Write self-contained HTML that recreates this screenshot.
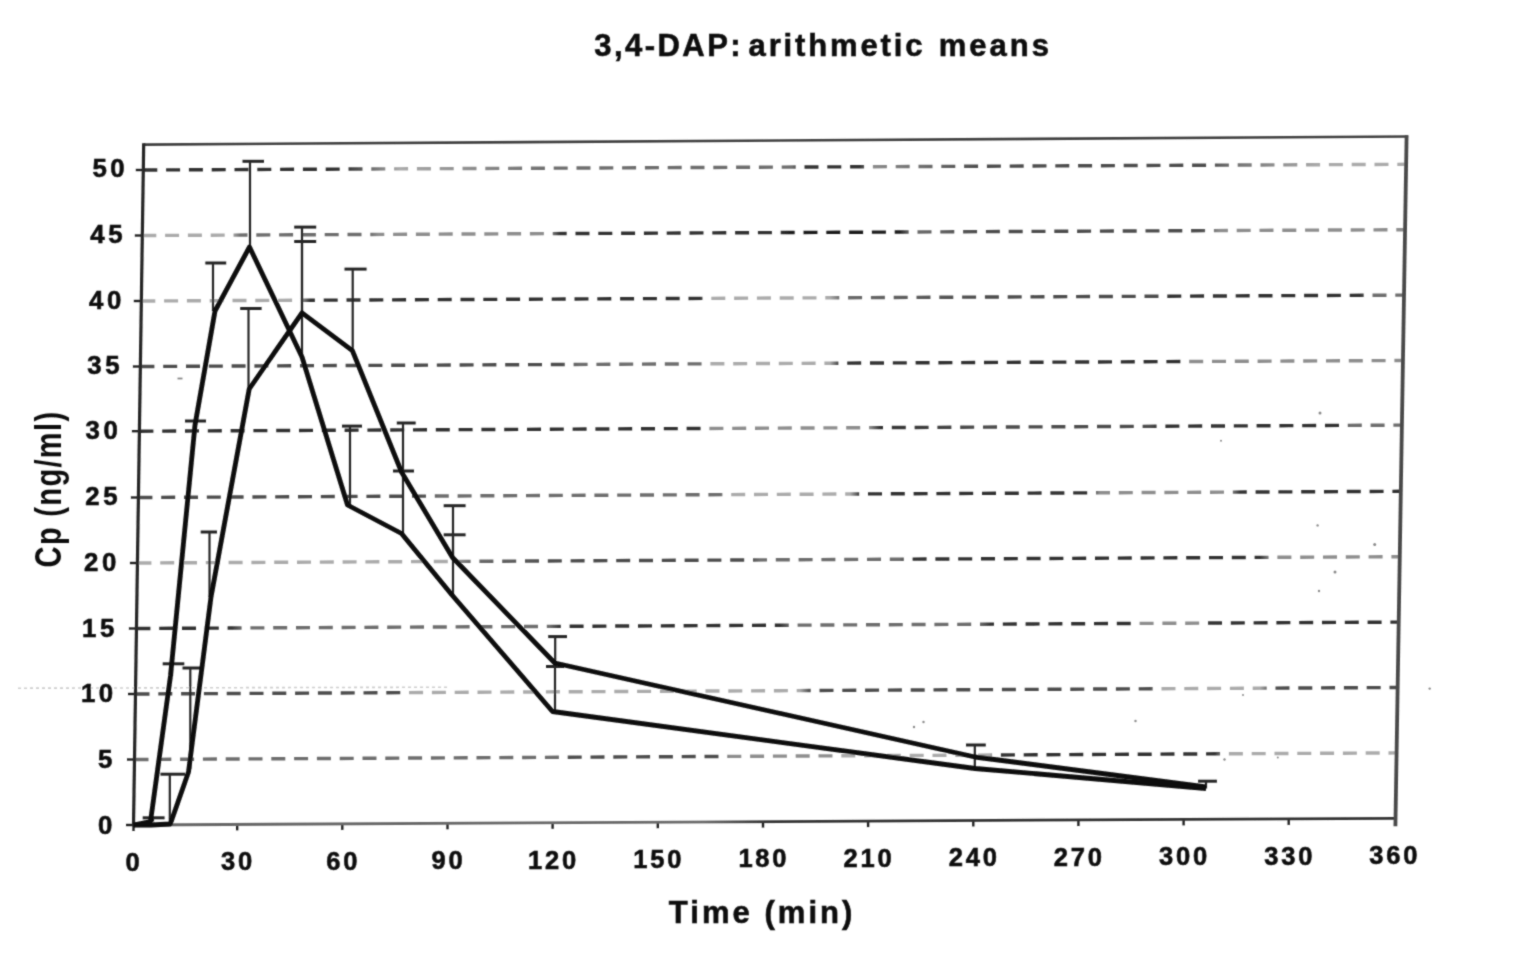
<!DOCTYPE html><html><head><meta charset="utf-8"><title>3,4-DAP: arithmetic means</title>
<style>html,body{margin:0;padding:0;background:#fff;}svg{display:block;}text{font-family:"Liberation Sans",Arial,sans-serif;font-weight:bold;fill:#111;stroke:#111;stroke-width:0.6px;}</style></head><body>
<svg width="1530" height="953" viewBox="0 0 1530 953">
<rect width="1530" height="953" fill="#fff"/>
<defs><filter id="scan" x="0" y="0" width="100%" height="100%" filterUnits="userSpaceOnUse"><feConvolveMatrix order="3" kernelMatrix="0.04 0.09 0.04 0.09 0.48 0.09 0.04 0.09 0.04" edgeMode="duplicate" preserveAlpha="false"/></filter></defs>
<g filter="url(#scan)">
<line x1="18" y1="688.2" x2="450" y2="687.2" stroke="#cfcfcf" stroke-width="1.6" stroke-dasharray="3 3"/>
<defs>
<linearGradient id="g50" gradientUnits="userSpaceOnUse" x1="133" y1="0" x2="1410" y2="0">
<stop offset="0.0094" stop-color="#333333"/>
<stop offset="0.1660" stop-color="#333333"/>
<stop offset="0.1872" stop-color="#6e6e6e"/>
<stop offset="0.2091" stop-color="#ababab"/>
<stop offset="0.3265" stop-color="#6e6e6e"/>
<stop offset="0.5161" stop-color="#6e6e6e"/>
<stop offset="0.5223" stop-color="#333333"/>
<stop offset="0.5693" stop-color="#333333"/>
<stop offset="0.5771" stop-color="#8e8e8e"/>
<stop offset="0.6633" stop-color="#4d4d4d"/>
<stop offset="0.8434" stop-color="#4d4d4d"/>
<stop offset="0.8590" stop-color="#6e6e6e"/>
<stop offset="0.9295" stop-color="#ababab"/>
<stop offset="0.9969" stop-color="#ababab"/>
</linearGradient>
<linearGradient id="g45" gradientUnits="userSpaceOnUse" x1="133" y1="0" x2="1410" y2="0">
<stop offset="0.0094" stop-color="#ababab"/>
<stop offset="0.0775" stop-color="#ababab"/>
<stop offset="0.0838" stop-color="#6e6e6e"/>
<stop offset="0.1856" stop-color="#6e6e6e"/>
<stop offset="0.1919" stop-color="#8e8e8e"/>
<stop offset="0.3265" stop-color="#8e8e8e"/>
<stop offset="0.3344" stop-color="#333333"/>
<stop offset="0.5067" stop-color="#333333"/>
<stop offset="0.5145" stop-color="#1e1e1e"/>
<stop offset="0.6006" stop-color="#1e1e1e"/>
<stop offset="0.6085" stop-color="#6e6e6e"/>
<stop offset="0.6633" stop-color="#4d4d4d"/>
<stop offset="0.8356" stop-color="#4d4d4d"/>
<stop offset="0.8512" stop-color="#8e8e8e"/>
<stop offset="0.9969" stop-color="#8e8e8e"/>
</linearGradient>
<linearGradient id="g40" gradientUnits="userSpaceOnUse" x1="133" y1="0" x2="1410" y2="0">
<stop offset="0.0094" stop-color="#ababab"/>
<stop offset="0.1308" stop-color="#ababab"/>
<stop offset="0.1386" stop-color="#333333"/>
<stop offset="0.4440" stop-color="#333333"/>
<stop offset="0.4518" stop-color="#ababab"/>
<stop offset="0.5458" stop-color="#ababab"/>
<stop offset="0.5536" stop-color="#6e6e6e"/>
<stop offset="0.6633" stop-color="#4d4d4d"/>
<stop offset="0.8042" stop-color="#4d4d4d"/>
<stop offset="0.8121" stop-color="#333333"/>
<stop offset="0.9608" stop-color="#333333"/>
<stop offset="0.9687" stop-color="#6e6e6e"/>
<stop offset="0.9969" stop-color="#6e6e6e"/>
</linearGradient>
<linearGradient id="g35" gradientUnits="userSpaceOnUse" x1="133" y1="0" x2="1410" y2="0">
<stop offset="0.0094" stop-color="#4d4d4d"/>
<stop offset="0.3344" stop-color="#4d4d4d"/>
<stop offset="0.3500" stop-color="#6e6e6e"/>
<stop offset="0.4440" stop-color="#6e6e6e"/>
<stop offset="0.4518" stop-color="#ababab"/>
<stop offset="0.5458" stop-color="#ababab"/>
<stop offset="0.5536" stop-color="#333333"/>
<stop offset="0.8199" stop-color="#333333"/>
<stop offset="0.8277" stop-color="#8e8e8e"/>
<stop offset="0.9969" stop-color="#8e8e8e"/>
</linearGradient>
<linearGradient id="g30" gradientUnits="userSpaceOnUse" x1="133" y1="0" x2="1410" y2="0">
<stop offset="0.0094" stop-color="#333333"/>
<stop offset="0.4440" stop-color="#333333"/>
<stop offset="0.4518" stop-color="#8e8e8e"/>
<stop offset="0.5771" stop-color="#8e8e8e"/>
<stop offset="0.5850" stop-color="#333333"/>
<stop offset="0.6633" stop-color="#4d4d4d"/>
<stop offset="0.7964" stop-color="#4d4d4d"/>
<stop offset="0.8042" stop-color="#333333"/>
<stop offset="0.9452" stop-color="#333333"/>
<stop offset="0.9530" stop-color="#6e6e6e"/>
<stop offset="0.9969" stop-color="#6e6e6e"/>
</linearGradient>
<linearGradient id="g25" gradientUnits="userSpaceOnUse" x1="133" y1="0" x2="1410" y2="0">
<stop offset="0.0094" stop-color="#4d4d4d"/>
<stop offset="0.2247" stop-color="#4d4d4d"/>
<stop offset="0.2404" stop-color="#6e6e6e"/>
<stop offset="0.4597" stop-color="#6e6e6e"/>
<stop offset="0.4675" stop-color="#ababab"/>
<stop offset="0.5615" stop-color="#ababab"/>
<stop offset="0.5693" stop-color="#333333"/>
<stop offset="0.7494" stop-color="#333333"/>
<stop offset="0.7572" stop-color="#8e8e8e"/>
<stop offset="0.8590" stop-color="#8e8e8e"/>
<stop offset="0.8669" stop-color="#333333"/>
<stop offset="0.9922" stop-color="#333333"/>
</linearGradient>
<linearGradient id="g20" gradientUnits="userSpaceOnUse" x1="133" y1="0" x2="1410" y2="0">
<stop offset="0.0094" stop-color="#ababab"/>
<stop offset="0.2482" stop-color="#ababab"/>
<stop offset="0.2639" stop-color="#6e6e6e"/>
<stop offset="0.3265" stop-color="#4d4d4d"/>
<stop offset="0.4832" stop-color="#4d4d4d"/>
<stop offset="0.4910" stop-color="#6e6e6e"/>
<stop offset="0.6006" stop-color="#6e6e6e"/>
<stop offset="0.6085" stop-color="#333333"/>
<stop offset="0.8825" stop-color="#333333"/>
<stop offset="0.8904" stop-color="#8e8e8e"/>
<stop offset="0.9922" stop-color="#8e8e8e"/>
</linearGradient>
<linearGradient id="g15" gradientUnits="userSpaceOnUse" x1="133" y1="0" x2="1410" y2="0">
<stop offset="0.0094" stop-color="#333333"/>
<stop offset="0.0775" stop-color="#333333"/>
<stop offset="0.0854" stop-color="#6e6e6e"/>
<stop offset="0.3265" stop-color="#6e6e6e"/>
<stop offset="0.3344" stop-color="#333333"/>
<stop offset="0.5067" stop-color="#333333"/>
<stop offset="0.5145" stop-color="#6e6e6e"/>
<stop offset="0.6633" stop-color="#6e6e6e"/>
<stop offset="0.6711" stop-color="#333333"/>
<stop offset="0.7807" stop-color="#333333"/>
<stop offset="0.7886" stop-color="#8e8e8e"/>
<stop offset="0.8356" stop-color="#8e8e8e"/>
<stop offset="0.8434" stop-color="#333333"/>
<stop offset="0.9922" stop-color="#333333"/>
</linearGradient>
<linearGradient id="g10" gradientUnits="userSpaceOnUse" x1="133" y1="0" x2="1410" y2="0">
<stop offset="0.0094" stop-color="#4d4d4d"/>
<stop offset="0.2091" stop-color="#4d4d4d"/>
<stop offset="0.2169" stop-color="#ababab"/>
<stop offset="0.5223" stop-color="#ababab"/>
<stop offset="0.5301" stop-color="#4d4d4d"/>
<stop offset="0.7964" stop-color="#4d4d4d"/>
<stop offset="0.8042" stop-color="#ababab"/>
<stop offset="0.8825" stop-color="#ababab"/>
<stop offset="0.8904" stop-color="#4d4d4d"/>
<stop offset="0.9922" stop-color="#4d4d4d"/>
</linearGradient>
<linearGradient id="g5" gradientUnits="userSpaceOnUse" x1="133" y1="0" x2="1410" y2="0">
<stop offset="0.0094" stop-color="#6e6e6e"/>
<stop offset="0.3344" stop-color="#6e6e6e"/>
<stop offset="0.3422" stop-color="#4d4d4d"/>
<stop offset="0.4597" stop-color="#4d4d4d"/>
<stop offset="0.4675" stop-color="#8e8e8e"/>
<stop offset="0.5458" stop-color="#8e8e8e"/>
<stop offset="0.5536" stop-color="#ababab"/>
<stop offset="0.6711" stop-color="#ababab"/>
<stop offset="0.6789" stop-color="#333333"/>
<stop offset="0.8473" stop-color="#333333"/>
<stop offset="0.8551" stop-color="#ababab"/>
<stop offset="0.9922" stop-color="#ababab"/>
</linearGradient>
</defs>
<g stroke-width="3.4" stroke-dasharray="14 8.8" fill="none">
<line x1="134.5" y1="759.5" x2="1396.5" y2="752.9" stroke="url(#g5)"/>
<line x1="135.5" y1="694.0" x2="1397.5" y2="687.5" stroke="url(#g10)"/>
<line x1="136.4" y1="628.5" x2="1398.6" y2="622.1" stroke="url(#g15)"/>
<line x1="137.4" y1="563.0" x2="1399.7" y2="556.7" stroke="url(#g20)"/>
<line x1="138.4" y1="497.5" x2="1400.8" y2="491.3" stroke="url(#g25)"/>
<line x1="139.4" y1="431.2" x2="1401.8" y2="425.1" stroke="url(#g30)"/>
<line x1="140.4" y1="366.5" x2="1402.9" y2="360.5" stroke="url(#g35)"/>
<line x1="141.3" y1="301.0" x2="1404.0" y2="295.1" stroke="url(#g40)"/>
<line x1="142.3" y1="235.5" x2="1405.1" y2="229.7" stroke="url(#g45)"/>
<line x1="143.3" y1="170.0" x2="1406.1" y2="164.3" stroke="url(#g50)"/>
</g>
<g stroke="#222" stroke-width="2.4">
<line x1="126.0" y1="825.0" x2="133.5" y2="825.0"/>
<line x1="127.0" y1="759.5" x2="134.5" y2="759.5"/>
<line x1="128.0" y1="694.0" x2="135.5" y2="694.0"/>
<line x1="128.9" y1="628.5" x2="136.4" y2="628.5"/>
<line x1="129.9" y1="563.0" x2="137.4" y2="563.0"/>
<line x1="130.9" y1="497.5" x2="138.4" y2="497.5"/>
<line x1="131.9" y1="431.2" x2="139.4" y2="431.2"/>
<line x1="132.9" y1="366.5" x2="140.4" y2="366.5"/>
<line x1="133.8" y1="301.0" x2="141.3" y2="301.0"/>
<line x1="134.8" y1="235.5" x2="142.3" y2="235.5"/>
<line x1="135.8" y1="170.0" x2="143.3" y2="170.0"/>
</g>
<g stroke="#222" stroke-width="2.4">
<line x1="133.5" y1="825.0" x2="133.5" y2="831.0"/>
<line x1="237.2" y1="824.4" x2="237.2" y2="830.4"/>
<line x1="342.3" y1="823.9" x2="342.3" y2="829.9"/>
<line x1="447.5" y1="823.3" x2="447.5" y2="829.3"/>
<line x1="552.6" y1="822.8" x2="552.6" y2="828.8"/>
<line x1="657.8" y1="822.2" x2="657.8" y2="828.2"/>
<line x1="763.0" y1="821.6" x2="763.0" y2="827.6"/>
<line x1="868.1" y1="821.1" x2="868.1" y2="827.1"/>
<line x1="973.3" y1="820.5" x2="973.3" y2="826.5"/>
<line x1="1078.4" y1="820.0" x2="1078.4" y2="826.0"/>
<line x1="1183.6" y1="819.4" x2="1183.6" y2="825.4"/>
<line x1="1288.7" y1="818.9" x2="1288.7" y2="824.9"/>
<line x1="1395.4" y1="818.3" x2="1395.4" y2="824.3"/>
</g>
<defs><linearGradient id="gb" gradientUnits="userSpaceOnUse" x1="133" y1="0" x2="1400" y2="0"><stop offset="0" stop-color="#666"/><stop offset="0.45" stop-color="#6a6a6a"/><stop offset="0.5" stop-color="#333"/><stop offset="1" stop-color="#333"/></linearGradient></defs>
<line x1="143.7" y1="144.6" x2="1408.1" y2="136.5" stroke="#404040" stroke-width="2.6"/>
<line x1="133.5" y1="825.0" x2="1395.4" y2="818.3" stroke="url(#gb)" stroke-width="2.8"/>
<line x1="143.7" y1="143.29999999999998" x2="133.5" y2="826.3" stroke="#252525" stroke-width="3.2"/>
<line x1="1406.6" y1="135.2" x2="1395.4" y2="826.3" stroke="#4a4a4a" stroke-width="3.8"/>
<circle cx="914" cy="727" r="1.2" fill="#8a8a8a"/>
<circle cx="923.5" cy="722" r="1.2" fill="#8a8a8a"/>
<circle cx="1135.5" cy="721" r="1.2" fill="#8a8a8a"/>
<circle cx="1224.5" cy="759.5" r="1.2" fill="#8a8a8a"/>
<circle cx="1320" cy="413" r="1.5" fill="#8a8a8a"/>
<circle cx="1221" cy="440.7" r="1" fill="#8a8a8a"/>
<circle cx="1317.6" cy="525.4" r="1.2" fill="#8a8a8a"/>
<circle cx="1374.7" cy="544.4" r="1.5" fill="#8a8a8a"/>
<circle cx="1335" cy="572" r="1.5" fill="#8a8a8a"/>
<circle cx="1319" cy="591" r="1.2" fill="#8a8a8a"/>
<circle cx="1277.8" cy="757.4" r="1" fill="#8a8a8a"/>
<circle cx="1243" cy="695" r="1" fill="#8a8a8a"/>
<circle cx="1429.7" cy="688.6" r="1.2" fill="#8a8a8a"/>
<line x1="177.5" y1="378.5" x2="182.5" y2="378.5" stroke="#888" stroke-width="1.8"/>
<g stroke="#262626" fill="none">
<line x1="153" y1="821.5" x2="153" y2="817.8" stroke-width="2.2"/>
<line x1="142.7" y1="817.8" x2="164.6" y2="817.8" stroke-width="3"/>
<line x1="169.8" y1="824" x2="169.8" y2="774.2" stroke-width="2.2"/>
<line x1="160.5" y1="774.2" x2="185" y2="774.2" stroke-width="3"/>
<line x1="172" y1="676" x2="172" y2="663.8" stroke-width="2.2"/>
<line x1="162.7" y1="663.8" x2="184.3" y2="663.8" stroke-width="3"/>
<line x1="190.3" y1="769" x2="190.3" y2="668" stroke-width="2.2"/>
<line x1="182.5" y1="668" x2="200.9" y2="668" stroke-width="3"/>
<line x1="196" y1="425" x2="196" y2="421" stroke-width="2.2"/>
<line x1="185" y1="421" x2="206" y2="421" stroke-width="3"/>
<line x1="209.5" y1="597" x2="209.5" y2="532" stroke-width="2.2"/>
<line x1="200.7" y1="532" x2="217" y2="532" stroke-width="3"/>
<line x1="213" y1="311" x2="213" y2="263" stroke-width="2.2"/>
<line x1="205.3" y1="263" x2="226.2" y2="263" stroke-width="3"/>
<line x1="248.5" y1="389" x2="248.5" y2="308.5" stroke-width="2.2"/>
<line x1="240.2" y1="308.5" x2="261.6" y2="308.5" stroke-width="3"/>
<line x1="250" y1="247" x2="250" y2="161.3" stroke-width="2.2"/>
<line x1="242.5" y1="161.3" x2="264" y2="161.3" stroke-width="3"/>
<line x1="302" y1="312.8" x2="302" y2="227.1" stroke-width="2.2"/>
<line x1="294.2" y1="227.1" x2="316.2" y2="227.1" stroke-width="3"/>
<line x1="302" y1="357" x2="302" y2="241.5" stroke-width="2.2"/>
<line x1="294.2" y1="241.5" x2="316.2" y2="241.5" stroke-width="3"/>
<line x1="352.7" y1="350.6" x2="352.7" y2="269.1" stroke-width="2.2"/>
<line x1="344.5" y1="269.1" x2="366.6" y2="269.1" stroke-width="3"/>
<line x1="350" y1="505" x2="350" y2="426.1" stroke-width="2.2"/>
<line x1="342" y1="426.1" x2="362" y2="426.1" stroke-width="3"/>
<line x1="403" y1="472" x2="403" y2="423" stroke-width="2.2"/>
<line x1="396.8" y1="423" x2="415.7" y2="423" stroke-width="3"/>
<line x1="403" y1="533.5" x2="403" y2="471" stroke-width="2.2"/>
<line x1="393" y1="471" x2="414" y2="471" stroke-width="3"/>
<line x1="453" y1="557.5" x2="453" y2="505.7" stroke-width="2.2"/>
<line x1="443.7" y1="505.7" x2="465.6" y2="505.7" stroke-width="3"/>
<line x1="453" y1="595" x2="453" y2="534.8" stroke-width="2.2"/>
<line x1="443.7" y1="534.8" x2="465.6" y2="534.8" stroke-width="3"/>
<line x1="555.2" y1="663.5" x2="555.2" y2="636.6" stroke-width="2.2"/>
<line x1="548.2" y1="636.6" x2="567" y2="636.6" stroke-width="3"/>
<line x1="555" y1="711.5" x2="555" y2="666.5" stroke-width="2.2"/>
<line x1="546" y1="666.5" x2="564" y2="666.5" stroke-width="3"/>
<line x1="974.8" y1="768.5" x2="974.8" y2="745" stroke-width="2.2"/>
<line x1="966" y1="745" x2="985.8" y2="745" stroke-width="3"/>
<line x1="1206" y1="788.5" x2="1206" y2="781.2" stroke-width="2.2"/>
<line x1="1198.1" y1="781.2" x2="1216.9" y2="781.2" stroke-width="3"/>
</g>
<polyline points="133.5,825 150.5,821.5 170.5,676 195,425 215,311 249.5,247 302,357 347.5,505 401.5,533.5 452,595 552.5,711.5 975,768.5 1206,788.5" fill="none" stroke="#0a0a0a" stroke-width="4.8" stroke-linejoin="round"/>
<polyline points="133.5,825 151,825 170.3,824 188.5,772 211,597 249.2,389 302,312.8 352.4,350.6 401.5,472 452.5,557.5 554.8,663 975,757 1206,787" fill="none" stroke="#0a0a0a" stroke-width="4.8" stroke-linejoin="round"/>
<text font-size="31" letter-spacing="2.45" y="56.4"><tspan x="594.3">3,4-DAP:</tspan> <tspan x="748.6" font-size="31" letter-spacing="2.85">arithmetic</tspan> <tspan x="938.8" font-size="31" letter-spacing="3.0">means</tspan></text>
<text transform="translate(116.00,833.60)" font-size="25.8" text-anchor="end" letter-spacing="3.6">0</text>
<text transform="translate(116.00,767.97)" font-size="25.8" text-anchor="end" letter-spacing="3.6">5</text>
<text transform="translate(116.80,702.34)" font-size="25.8" text-anchor="end" letter-spacing="3.6">10</text>
<text transform="translate(118.00,636.71)" font-size="25.8" text-anchor="end" letter-spacing="3.6">15</text>
<text transform="translate(119.90,571.08)" font-size="25.8" text-anchor="end" letter-spacing="3.6">20</text>
<text transform="translate(121.10,505.45)" font-size="25.8" text-anchor="end" letter-spacing="3.6">25</text>
<text transform="translate(121.40,439.34)" font-size="25.8" text-anchor="end" letter-spacing="3.6">30</text>
<text transform="translate(123.10,374.19)" font-size="25.8" text-anchor="end" letter-spacing="3.6">35</text>
<text transform="translate(124.90,308.56)" font-size="25.8" text-anchor="end" letter-spacing="3.6">40</text>
<text transform="translate(126.20,242.93)" font-size="25.8" text-anchor="end" letter-spacing="3.6">45</text>
<text transform="translate(128.30,177.30)" font-size="25.8" text-anchor="end" letter-spacing="3.6">50</text>
<text transform="translate(134.10,870.80)" font-size="25.5" text-anchor="middle" letter-spacing="2.8">0</text>
<text transform="translate(238.06,870.24)" font-size="25.5" text-anchor="middle" letter-spacing="2.8">30</text>
<text transform="translate(343.22,869.68)" font-size="25.5" text-anchor="middle" letter-spacing="2.8">60</text>
<text transform="translate(448.38,869.12)" font-size="25.5" text-anchor="middle" letter-spacing="2.8">90</text>
<text transform="translate(553.53,868.57)" font-size="25.5" text-anchor="middle" letter-spacing="2.8">120</text>
<text transform="translate(658.69,868.01)" font-size="25.5" text-anchor="middle" letter-spacing="2.8">150</text>
<text transform="translate(763.85,867.45)" font-size="25.5" text-anchor="middle" letter-spacing="2.8">180</text>
<text transform="translate(869.01,866.89)" font-size="25.5" text-anchor="middle" letter-spacing="2.8">210</text>
<text transform="translate(974.17,866.33)" font-size="25.5" text-anchor="middle" letter-spacing="2.8">240</text>
<text transform="translate(1079.33,865.77)" font-size="25.5" text-anchor="middle" letter-spacing="2.8">270</text>
<text transform="translate(1184.48,865.22)" font-size="25.5" text-anchor="middle" letter-spacing="2.8">300</text>
<text transform="translate(1289.64,864.66)" font-size="25.5" text-anchor="middle" letter-spacing="2.8">330</text>
<text transform="translate(1394.80,864.10)" font-size="25.5" text-anchor="middle" letter-spacing="2.8">360</text>
<text transform="translate(762.12,922.90)" font-size="31" text-anchor="middle" letter-spacing="3.05">Time (min)</text>
<text transform="translate(61.2,489.0) scale(1.3,1) rotate(-90)" font-size="29" text-anchor="middle" letter-spacing="1.35" style="stroke-width:0">Cp (ng/ml)</text>
</g>
</svg></body></html>
